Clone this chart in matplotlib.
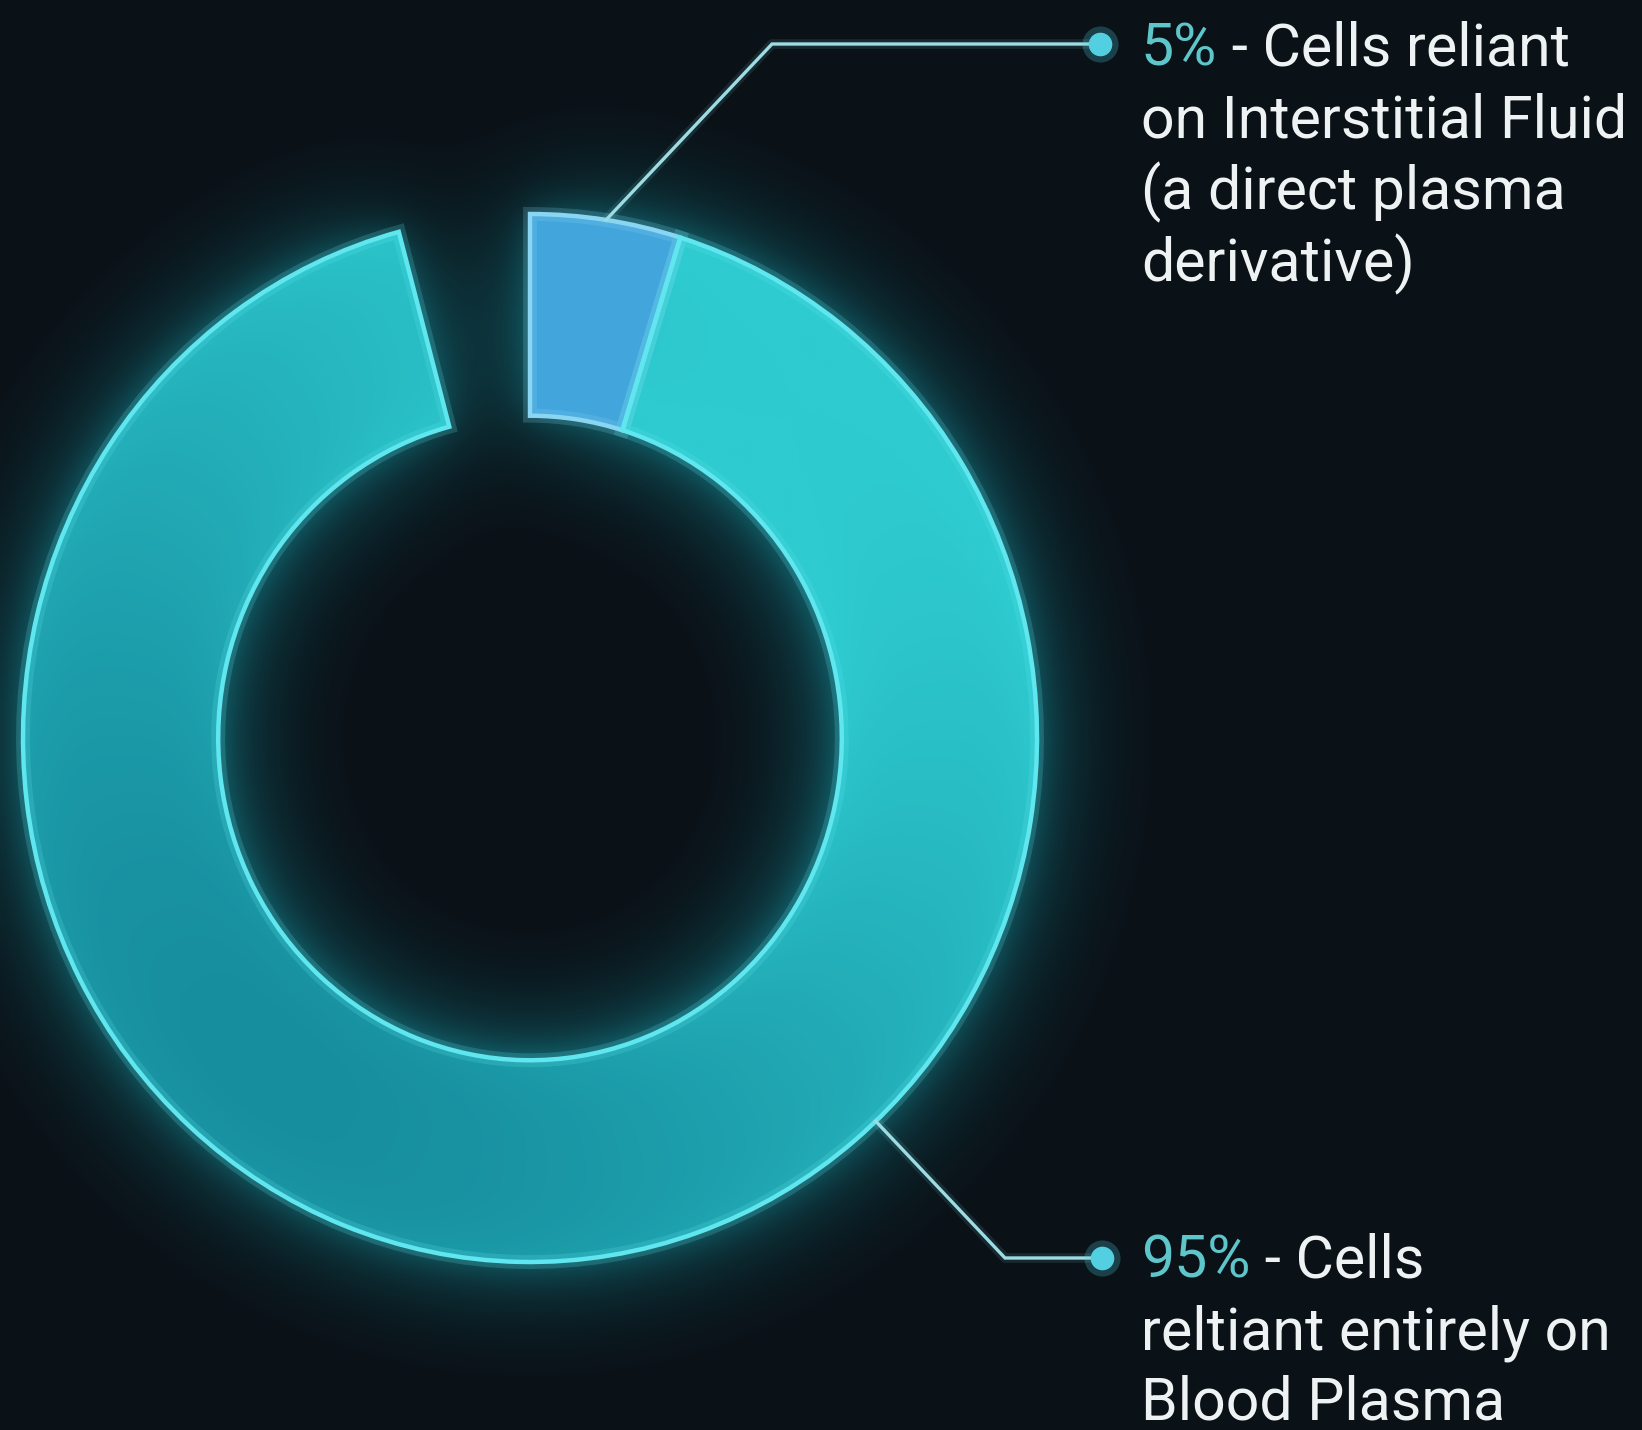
import numpy as np
import matplotlib.pyplot as plt
from matplotlib.patches import Wedge
from matplotlib.transforms import Affine2D
from matplotlib.colors import to_rgb

# data
shares = [5, 95]
pct_labels = ["5%", "95%"]
desc_lines = [
    [" - Cells reliant", "on Interstitial Fluid", "(a direct plasma", "derivative)"],
    [" - Cells", "reltiant entirely on", "Blood Plasma"],
]
fill_colors = ["#42a5dc", "#1fb0bd"]
edge_colors = ["#8ad6f2", "#5fe6ee"]

# layout (pixels)
W, H = 1642, 1430
bg = "#0a1117"
cx, cy, rx, ry = 530, 738, 507, 524
ring_w = 0.385
start_angle = 90
gap_deg = 15
leader_angle = [None, -47]          # None -> middle of the segment
elbows = [(772, 44), (1005, 1258)]
dots = [(1100, 44), (1102, 1258)]
text_x = 1141
first_base = [65, 1278]
line_step = [72, 71]

plt.rcParams['font.family'] = ['Roboto', 'DejaVu Sans']

fig = plt.figure(figsize=(W / 100, H / 100), dpi=100, facecolor=bg)
ax = fig.add_axes([0, 0, 1, 1])
ax.set_xlim(0, W)
ax.set_ylim(H, 0)
ax.axis('off')

unit = Affine2D().scale(rx, -ry).translate(cx, cy) + ax.transData

# segment angles, clockwise from the top, leaving a gap
avail = 360 - gap_deg
segs = []
theta = start_angle
for s in shares:
    span = s / 100 * avail
    segs.append((theta - span, theta))
    theta -= span

# glow from the ring mask
step = 3
gx = np.arange(0, W, step) + step / 2
gy = np.arange(0, H, step) + step / 2
X, Y = np.meshgrid(gx, gy)
U = (X - cx) / rx
V = (cy - Y) / ry
R = np.hypot(U, V)
A = np.degrees(np.arctan2(V, U))
ring = (R <= 1) & (R >= 1 - ring_w)
in_seg = np.zeros_like(ring)
for t1, t2 in segs:
    in_seg |= ((A - t1) % 360) <= (t2 - t1)
mask = (ring & in_seg).astype(float)


def blur(img, s):
    p = int(4 * s)
    a = np.pad(img, p)
    ky = np.fft.fftfreq(a.shape[0])
    kx = np.fft.fftfreq(a.shape[1])
    g = np.exp(-2 * (np.pi * s) ** 2 * (ky[:, None] ** 2 + kx[None, :] ** 2))
    out = np.real(np.fft.ifft2(np.fft.fft2(a) * g))
    return out[p:-p, p:-p]


glow = 0.75 * blur(mask, 20) + 0.35 * blur(mask, 6)
glow_img = np.zeros(glow.shape + (4,))
glow_img[..., :3] = to_rgb("#17acba")
glow_img[..., 3] = np.clip(glow, 0, 1) * 0.85
ax.imshow(glow_img, extent=(0, W, H, 0), interpolation='bilinear', zorder=1)

# shading for the big segment (brighter towards upper right, lighter near edges)
dark = np.array(to_rgb("#178e9e"))
bright = np.array(to_rgb("#2ecbd0"))
t = (1 + np.cos(np.radians(A - 50))) / 2
m = np.clip((R - (1 - ring_w)) / ring_w, 0, 1)
t = np.clip(t + 0.12 * np.abs(2 * m - 1) ** 3, 0, 1)
shade = dark + (bright - dark) * t[..., None]

for i, (t1, t2) in enumerate(segs):
    w = Wedge((0, 0), 1, t1, t2, width=ring_w, transform=unit,
              facecolor=fill_colors[i], edgecolor='none', zorder=2)
    ax.add_patch(w)
    if i == 1:
        im = ax.imshow(shade, extent=(0, W, H, 0), interpolation='bilinear', zorder=2.5)
        im.set_clip_path(w)
    # soft + crisp outline
    for lw, al in [(10, 0.2), (3.2, 1.0)]:
        ax.add_patch(Wedge((0, 0), 1, t1, t2, width=ring_w, transform=unit,
                           facecolor='none', edgecolor=edge_colors[i],
                           lw=lw, alpha=al, zorder=3))

# leader lines, dots and labels
fig.canvas.draw()
renderer = fig.canvas.get_renderer()
for i, (t1, t2) in enumerate(segs):
    ang = leader_angle[i] if leader_angle[i] is not None else (t1 + t2) / 2
    sx = cx + rx * np.cos(np.radians(ang))
    sy = cy - ry * np.sin(np.radians(ang))
    xs = [sx, elbows[i][0], dots[i][0]]
    ys = [sy, elbows[i][1], dots[i][1]]
    ax.plot(xs, ys, color="#7fd6e2", lw=7, alpha=0.12, solid_capstyle='round', zorder=4)
    ax.plot(xs, ys, color="#9edce4", lw=2.4, solid_joinstyle='miter', zorder=5)
    ax.plot(dots[i][0], dots[i][1], 'o', ms=26, color="#4fd0e2", alpha=0.25, mec='none', zorder=5)
    ax.plot(dots[i][0], dots[i][1], 'o', ms=17, color="#52cfe0", mec='none', zorder=6)

    base = first_base[i]
    pt = ax.text(text_x, base, pct_labels[i], color="#5ec6cb", fontsize=42.5,
                 va='baseline', ha='left', zorder=6)
    bb = pt.get_window_extent(renderer)
    x_after = ax.transData.inverted().transform((bb.x1, 0))[0]
    ax.text(x_after, base, desc_lines[i][0], color="#eef2f3", fontsize=42.5,
            va='baseline', ha='left', zorder=6)
    for k, line in enumerate(desc_lines[i][1:], start=1):
        ax.text(text_x, base + k * line_step[i], line, color="#eef2f3", fontsize=42.5,
                va='baseline', ha='left', zorder=6)

fig.savefig("out.png", dpi=100, facecolor=bg)
